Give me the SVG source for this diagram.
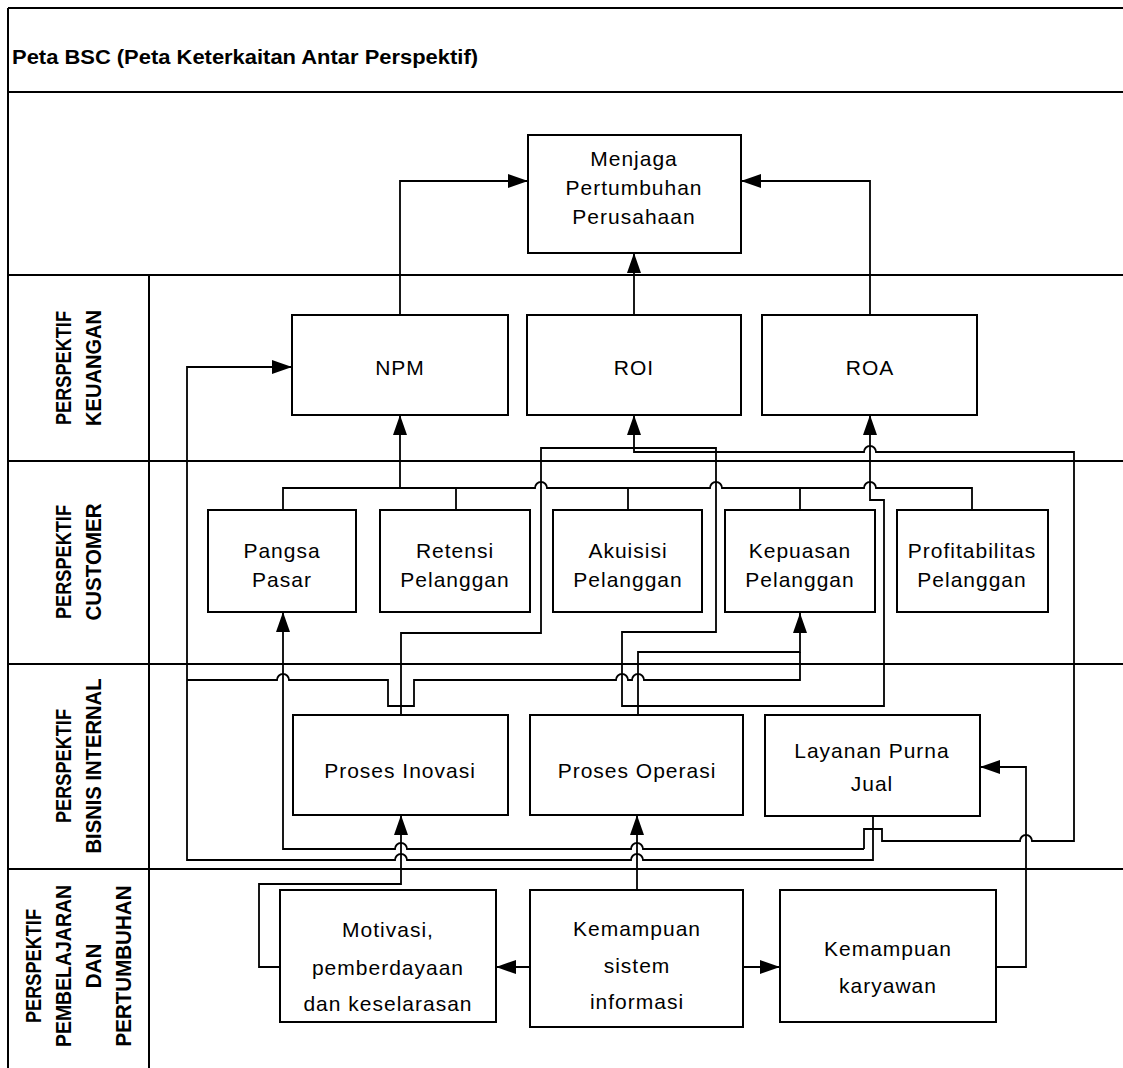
<svg xmlns="http://www.w3.org/2000/svg" width="1123" height="1068" viewBox="0 0 1123 1068">
<defs>
<marker id="arr" markerUnits="userSpaceOnUse" markerWidth="20" markerHeight="14" refX="20" refY="7" orient="auto"><path d="M0,0 L20,7 L0,14 z" fill="#000"/></marker>
<style>
.frame{stroke:#000;stroke-width:2;fill:none}
.box{fill:#fff;stroke:#000;stroke-width:2}
.t{font-family:"Liberation Sans",Arial,sans-serif;font-size:21px;letter-spacing:1px;text-anchor:middle;dominant-baseline:central;fill:#000}
.lane{font-family:"Liberation Sans",Arial,sans-serif;font-size:22px;font-weight:bold;text-anchor:middle;dominant-baseline:central;fill:#000}
.title{font-family:"Liberation Sans",Arial,sans-serif;font-size:20px;font-weight:bold;dominant-baseline:central;fill:#000}
.c{fill:none;stroke:#000;stroke-width:1.8}
.a{marker-end:url(#arr)}
</style>
</defs>
<rect width="1123" height="1068" fill="#fff"/>
<g id="frame">
<path class="frame" d="M8,8 H1123 M8,92 H1123 M8,275 H1123 M8,461 H1123 M8,664 H1123 M8,869 H1123 M8,8 V1068 M149,275 V1068"/>
<text class="title" x="12" y="57" textLength="466" lengthAdjust="spacingAndGlyphs">Peta BSC (Peta Keterkaitan Antar Perspektif)</text>
</g>
<g id="lane-keuangan"><g transform="translate(0,368)"><text class="lane" transform="translate(63,0) rotate(-90)" textLength="114" lengthAdjust="spacingAndGlyphs">PERSPEKTIF</text><text class="lane" transform="translate(93,0) rotate(-90)" textLength="116" lengthAdjust="spacingAndGlyphs">KEUANGAN</text></g></g>
<g id="lane-customer"><g transform="translate(0,562)"><text class="lane" transform="translate(63,0) rotate(-90)" textLength="114" lengthAdjust="spacingAndGlyphs">PERSPEKTIF</text><text class="lane" transform="translate(93,0) rotate(-90)" textLength="117" lengthAdjust="spacingAndGlyphs">CUSTOMER</text></g></g>
<g id="lane-internal"><g transform="translate(0,766)"><text class="lane" transform="translate(63,0) rotate(-90)" textLength="114" lengthAdjust="spacingAndGlyphs">PERSPEKTIF</text><text class="lane" transform="translate(93,0) rotate(-90)" textLength="175" lengthAdjust="spacingAndGlyphs">BISNIS INTERNAL</text></g></g>
<g id="lane-pembelajaran"><g transform="translate(0,966)"><text class="lane" transform="translate(33,0) rotate(-90)" textLength="114" lengthAdjust="spacingAndGlyphs">PERSPEKTIF</text><text class="lane" transform="translate(63,0) rotate(-90)" textLength="162" lengthAdjust="spacingAndGlyphs">PEMBELAJARAN</text><text class="lane" transform="translate(93,0) rotate(-90)" textLength="45" lengthAdjust="spacingAndGlyphs">DAN</text><text class="lane" transform="translate(123,0) rotate(-90)" textLength="161" lengthAdjust="spacingAndGlyphs">PERTUMBUHAN</text></g></g>

<g id="n-menjaga"><rect class="box" x="528" y="135" width="213" height="118"/><text class="t" x="634" y="158">Menjaga</text><text class="t" x="634" y="187">Pertumbuhan</text><text class="t" x="634" y="216">Perusahaan</text></g>
<g id="n-npm"><rect class="box" x="292" y="315" width="216" height="100"/><text class="t" x="400" y="367">NPM</text></g>
<g id="n-roi"><rect class="box" x="527" y="315" width="214" height="100"/><text class="t" x="634" y="367">ROI</text></g>
<g id="n-roa"><rect class="box" x="762" y="315" width="215" height="100"/><text class="t" x="870" y="367">ROA</text></g>
<g id="n-pangsa"><rect class="box" x="208" y="510" width="148" height="102"/><text class="t" x="282" y="550">Pangsa</text><text class="t" x="282" y="579">Pasar</text></g>
<g id="n-retensi"><rect class="box" x="380" y="510" width="150" height="102"/><text class="t" x="455" y="550">Retensi</text><text class="t" x="455" y="579">Pelanggan</text></g>
<g id="n-akuisisi"><rect class="box" x="553" y="510" width="149" height="102"/><text class="t" x="628" y="550">Akuisisi</text><text class="t" x="628" y="579">Pelanggan</text></g>
<g id="n-kepuasan"><rect class="box" x="725" y="510" width="150" height="102"/><text class="t" x="800" y="550">Kepuasan</text><text class="t" x="800" y="579">Pelanggan</text></g>
<g id="n-profit"><rect class="box" x="897" y="510" width="151" height="102"/><text class="t" x="972" y="550">Profitabilitas</text><text class="t" x="972" y="579">Pelanggan</text></g>
<g id="n-inovasi"><rect class="box" x="293" y="715" width="215" height="100"/><text class="t" x="400" y="770">Proses Inovasi</text></g>
<g id="n-operasi"><rect class="box" x="530" y="715" width="213" height="100"/><text class="t" x="637" y="770">Proses Operasi</text></g>
<g id="n-layanan"><rect class="box" x="765" y="715" width="215" height="101"/><text class="t" x="872" y="750">Layanan Purna</text><text class="t" x="872" y="783">Jual</text></g>
<g id="n-motivasi"><rect class="box" x="280" y="890" width="216" height="132"/><text class="t" x="388" y="929">Motivasi,</text><text class="t" x="388" y="967">pemberdayaan</text><text class="t" x="388" y="1003">dan keselarasan</text></g>
<g id="n-sistem"><rect class="box" x="530" y="890" width="213" height="137"/><text class="t" x="637" y="928">Kemampuan</text><text class="t" x="637" y="965">sistem</text><text class="t" x="637" y="1001">informasi</text></g>
<g id="n-karyawan"><rect class="box" x="780" y="890" width="216" height="132"/><text class="t" x="888" y="948">Kemampuan</text><text class="t" x="888" y="985">karyawan</text></g>

<g id="connectors">
<path class="c a" d="M400,315 V181 H528"/>
<path class="c a" d="M634,315 V253"/>
<path class="c a" d="M870,315 V181 H741"/>
<path class="c" d="M283,510 V488 H535 A6,6 0 0 1 547,488 H710 A6,6 0 0 1 722,488 H864 A6,6 0 0 1 876,488 H972 V510 M456,488 V510 M628,488 V510 M800,488 V510"/>
<path class="c a" d="M400,488 V415"/>
<path class="c a" d="M401,715 V633 H541 V448 H716 V632 H622 V706 H884 V500 H870 V415"/>
<path class="c a" d="M638,715 V652 H800 V613"/>
<path class="c" d="M187,680 H277 A6,6 0 0 1 289,680 H388 V706 H414 V680 H616 A6,6 0 0 1 628,680 H632 A6,6 0 0 1 644,680 H800 V652"/>
<path class="c a" d="M873,816 V860 H643 A6,6 0 0 0 631,860 H407 A6,6 0 0 0 395,860 H187 V367 H292"/>
<path class="c a" d="M864,849 H643 A6,6 0 0 0 631,849 H407 A6,6 0 0 0 395,849 H283 V612"/>
<path class="c a" d="M864,849 V829 H882 V841 H1020 A6,6 0 0 1 1032,841 H1074 V452 H876 A6,6 0 0 0 864,452 H634 V415"/>
<path class="c a" d="M637,890 V815"/>
<path class="c a" d="M530,967 H496"/>
<path class="c a" d="M743,967 H780"/>
<path class="c a" d="M996,967 H1026 V767 H980"/>
<path class="c a" d="M280,967 H259 V884 H401 V815"/>
</g>
</svg>
